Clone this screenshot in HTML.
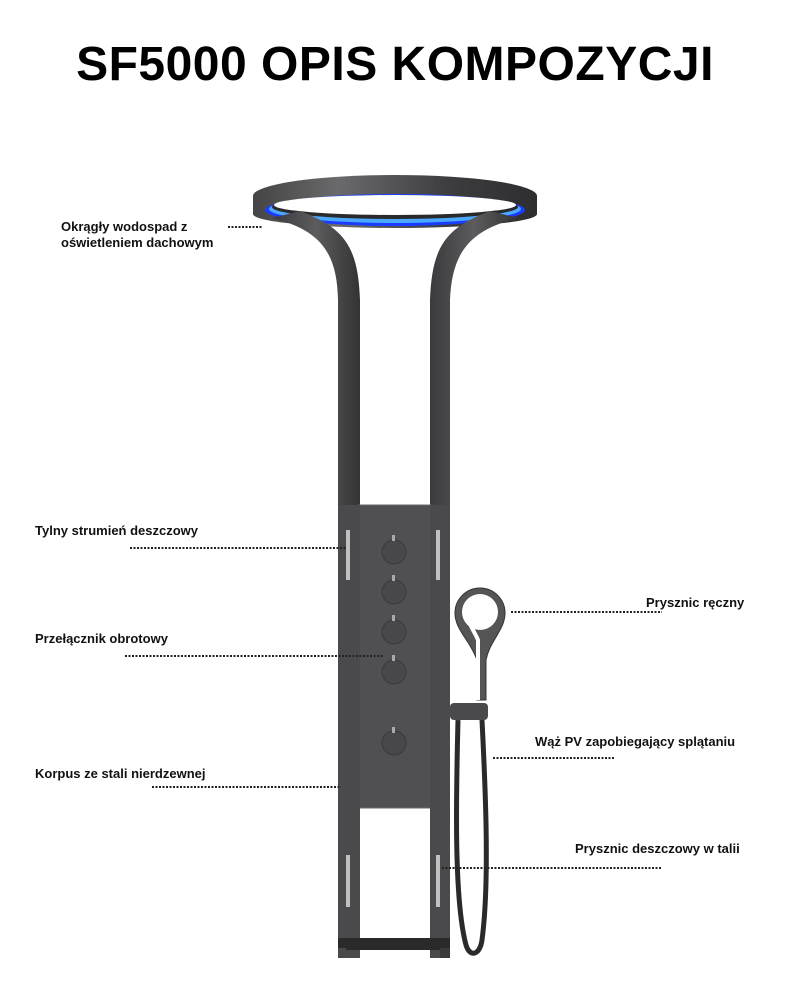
<!DOCTYPE html>
<html><head><meta charset="utf-8"><style>
body{margin:0;background:#fff;width:790px;height:1003px;overflow:hidden;position:relative;font-family:"Liberation Sans",sans-serif}
h1{position:absolute;left:0;width:790px;top:37px;margin:0;text-align:center;font-size:48px;font-weight:900;letter-spacing:0.5px;color:#000}
.l{position:absolute;font-size:13px;font-weight:bold;color:#111;line-height:16px}
svg{position:absolute;left:0;top:0}
</style></head><body>
<h1>SF5000 OPIS KOMPOZYCJI</h1>
<svg width="790" height="1003">
<defs>
<linearGradient id="g" x1="0" x2="1"><stop offset="0" stop-color="#3a3a3c"/><stop offset=".5" stop-color="#5c5c5e"/><stop offset="1" stop-color="#333"/></linearGradient>
<linearGradient id="r" x1="0" x2="1"><stop offset="0" stop-color="#444"/><stop offset=".3" stop-color="#6a6a6c"/><stop offset=".7" stop-color="#3c3c3e"/><stop offset="1" stop-color="#2e2e30"/></linearGradient>
</defs>
<!-- ring -->
<rect x="253" y="196" width="284" height="18" fill="url(#r)"/>
<ellipse cx="395" cy="214" rx="142" ry="14" fill="url(#r)"/>
<ellipse cx="395" cy="196" rx="142" ry="21" fill="url(#r)"/>
<ellipse cx="395" cy="210" rx="130" ry="16" fill="#1a3cff"/>
<ellipse cx="395" cy="209" rx="126" ry="14" fill="#4aa8ff"/>
<ellipse cx="395" cy="207" rx="123" ry="12" fill="#2a2a2c"/>
<ellipse cx="395" cy="205" rx="121" ry="10" fill="#fff"/>
<!-- arms -->
<path d="M272 218 C320 230 337 252 338 300 L338 958 L360 958 L360 300 C358 247 345 228 300 211 Z" fill="url(#g)"/>
<path d="M518 218 C470 230 452 252 450 300 L450 958 L430 958 L430 300 C432 247 445 228 490 211 Z" fill="url(#g)"/>
<!-- panel -->
<rect x="358" y="505" width="74" height="303" fill="#505052" stroke="#6a6a6a" stroke-width="1"/>
<rect x="338" y="505" width="22" height="453" fill="#4a4a4c"/>
<rect x="430" y="505" width="20" height="453" fill="#4a4a4c"/>
<g fill="#ddd">
<rect x="346" y="530" width="4" height="50" opacity=".8"/><rect x="436" y="530" width="4" height="50" opacity=".8"/>
<rect x="346" y="855" width="4" height="52" opacity=".8"/><rect x="436" y="855" width="4" height="52" opacity=".8"/>
</g>
<g fill="#48484a" stroke="#3a3a3a">
<circle cx="394" cy="552" r="12"/><circle cx="394" cy="592" r="12"/><circle cx="394" cy="632" r="12"/><circle cx="394" cy="672" r="12"/><circle cx="394" cy="743" r="12"/>
</g>
<g fill="#aaa"><rect x="392" y="535" width="3" height="6"/><rect x="392" y="575" width="3" height="6"/><rect x="392" y="615" width="3" height="6"/><rect x="392" y="655" width="3" height="6"/><rect x="392" y="727" width="3" height="6"/></g>
<!-- base -->
<rect x="338" y="938" width="112" height="12" fill="#2a2a2a"/>
<rect x="338" y="948" width="8" height="10" fill="#4a4a4c"/><rect x="440" y="948" width="10" height="10" fill="#3a3a3a"/>
<!-- hand shower -->
<path d="M477 700 L477 660 C470 640 455 630 455 613 A25 25 0 1 1 505 613 C505 630 490 640 486 660 L486 700 Z" fill="#555" stroke="#333"/>
<circle cx="480" cy="612" r="18" fill="#fff"/>
<path d="M478 700 L478 640 C474 630 468 625 468 612" stroke="#fff" stroke-width="4" fill="none"/>
<rect x="450" y="703" width="38" height="17" rx="4" fill="#4a4a4c"/>
<path d="M458 720 C456 800 454 900 466 945 C470 958 480 955 482 940 C490 880 485 780 482 720" stroke="#2a2a2a" stroke-width="5" fill="none"/>
<!-- leaders -->
<g stroke="#222" stroke-width="2" stroke-dasharray="2 1.5" fill="none">
<line x1="228" y1="227" x2="262" y2="227"/>
<line x1="130" y1="548" x2="346" y2="548"/>
<line x1="125" y1="656" x2="384" y2="656"/>
<line x1="152" y1="787" x2="340" y2="787"/>
<line x1="511" y1="612" x2="662" y2="612"/>
<line x1="493" y1="758" x2="614" y2="758"/>
<line x1="442" y1="868" x2="662" y2="868"/>
</g>
</svg>
<div class="l" style="left:61px;top:219px">Okrągły wodospad z<br>oświetleniem dachowym</div>
<div class="l" style="left:35px;top:523px">Tylny strumień deszczowy</div>
<div class="l" style="left:35px;top:631px">Przełącznik obrotowy</div>
<div class="l" style="left:35px;top:766px">Korpus ze stali nierdzewnej</div>
<div class="l" style="left:646px;top:595px">Prysznic ręczny</div>
<div class="l" style="left:535px;top:734px">Wąż PV zapobiegający splątaniu</div>
<div class="l" style="left:575px;top:841px">Prysznic deszczowy w talii</div>
</body></html>
